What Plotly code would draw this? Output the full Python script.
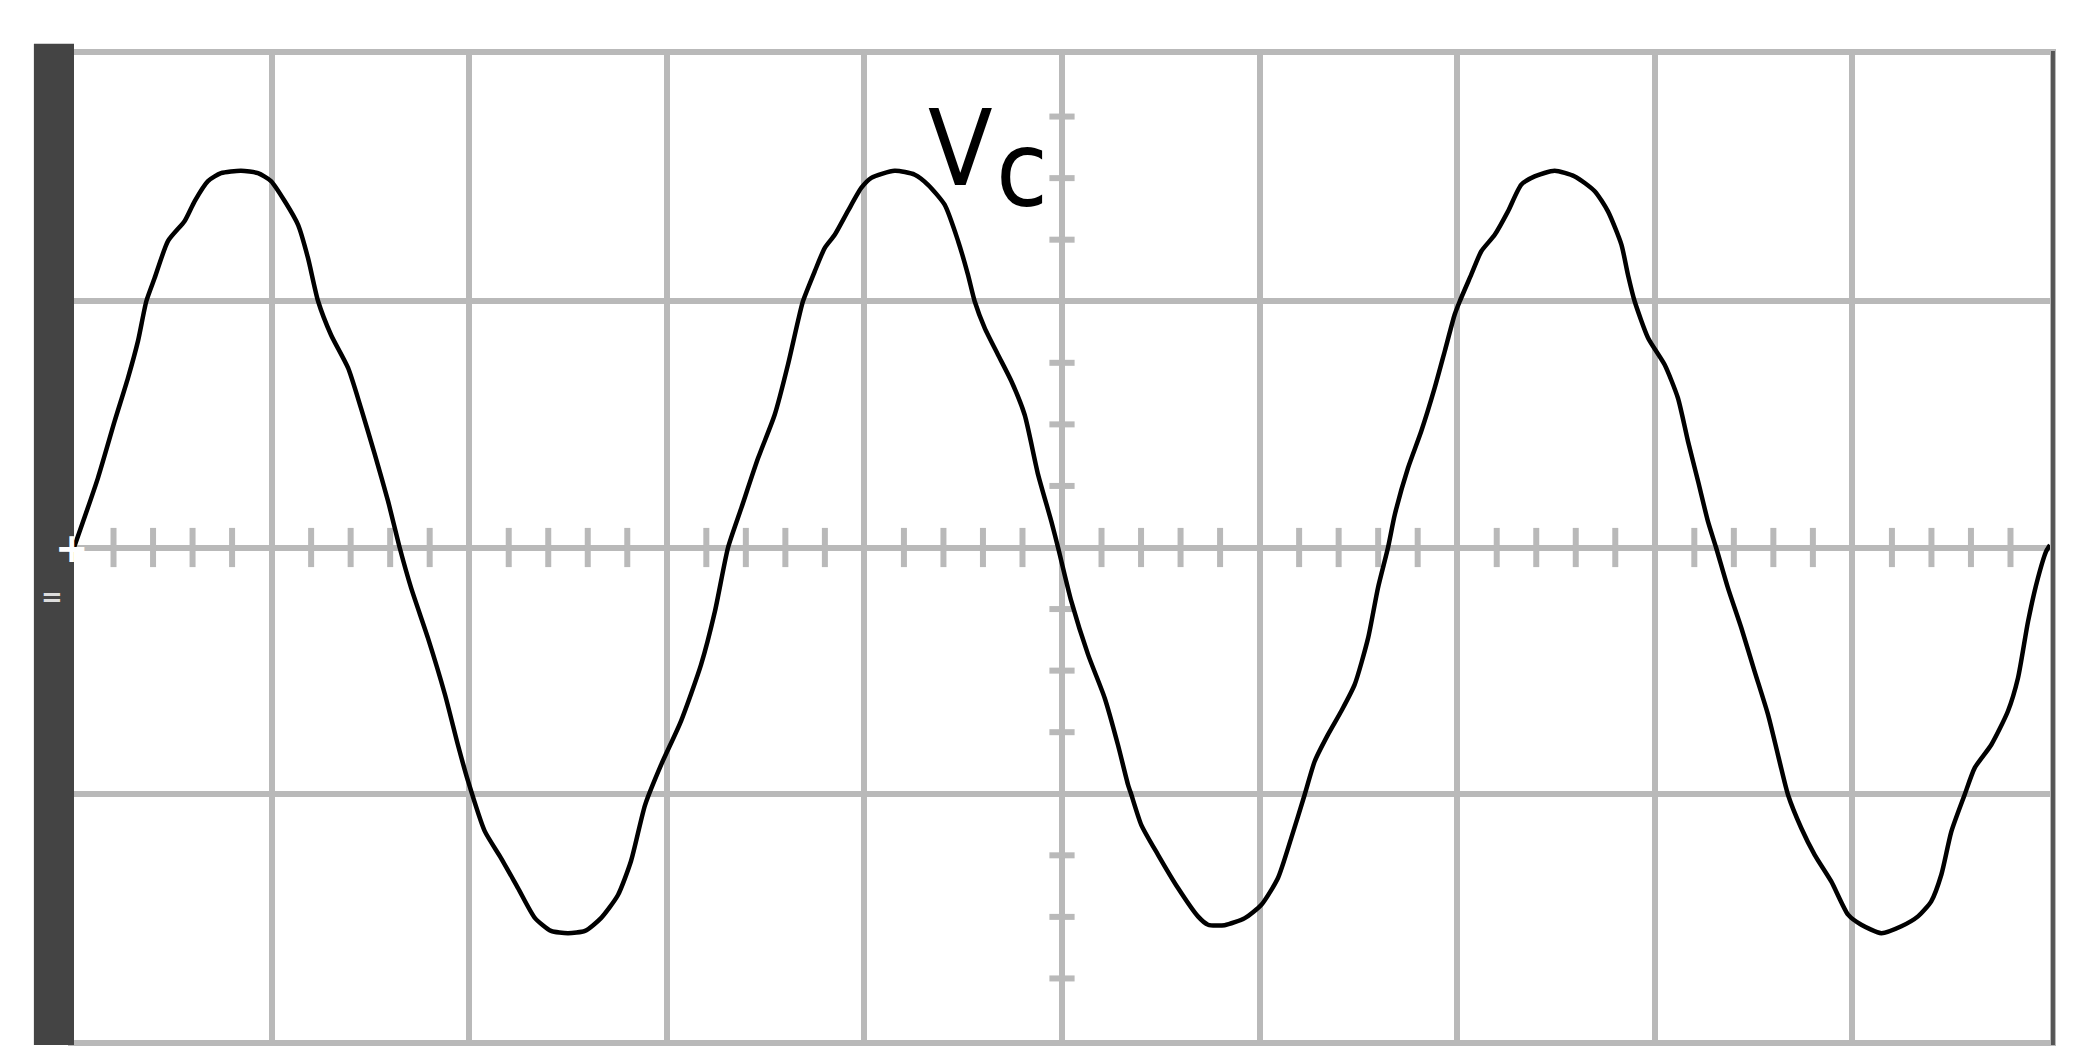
import plotly.graph_objects as go

# Data gelombang Vc (satuan: divisi layar osiloskop)
time_div = [
    0.000, 0.121, 0.206, 0.273, 0.324, 0.366, 0.408, 0.476, 0.560, 0.611,
    0.678, 0.744, 0.845, 0.931, 0.997, 1.066, 1.134, 1.184, 1.235, 1.301,
    1.387, 1.452, 1.523, 1.589, 1.648, 1.706, 1.791, 1.878, 1.943, 1.994,
    2.078, 2.161, 2.247, 2.333, 2.414, 2.500, 2.586, 2.667, 2.753, 2.819,
    2.890, 2.971, 3.072, 3.173, 3.244, 3.310,
    3.377, 3.462, 3.546, 3.613, 3.664, 3.689, 3.749, 3.799, 3.850, 3.917,
    3.984, 4.035, 4.153, 4.255, 4.322, 4.406, 4.474, 4.524, 4.558, 4.609,
    4.676, 4.744, 4.811, 4.879, 4.946, 4.980, 5.047, 5.132, 5.216, 5.283,
    5.334, 5.351, 5.401, 5.486, 5.587, 5.688, 5.739, 5.823, 5.925, 6.009,
    6.093, 6.160, 6.228, 6.279, 6.346, 6.413, 6.481, 6.549, 6.599, 6.650,
    6.684, 6.751, 6.818, 6.886, 6.937, 6.987, 7.013, 7.071, 7.122, 7.190,
    7.257, 7.324, 7.392, 7.493, 7.595, 7.696, 7.763, 7.831, 7.864, 7.898,
    7.966, 8.050, 8.117, 8.168, 8.219, 8.269, 8.310, 8.370, 8.438, 8.505,
    8.573, 8.623, 8.674, 8.741, 8.809, 8.893, 8.978, 9.045, 9.146, 9.248,
    9.332, 9.399, 9.450, 9.501, 9.568, 9.619, 9.703, 9.787, 9.838, 9.889,
    9.939, 9.981, 10.000,
]
vc_div = [
    0.000, 0.282, 0.514, 0.688, 0.839, 1.000, 1.094, 1.245, 1.326, 1.407,
    1.488, 1.520, 1.530, 1.520, 1.488, 1.407, 1.310, 1.176, 1.001, 0.863,
    0.729, 0.567, 0.376, 0.189, 0.000, -0.164, -0.367, -0.599, -0.802, -0.948,
    -1.151, -1.261, -1.383, -1.505, -1.557, -1.566, -1.557, -1.505, -1.411, -1.273,
    -1.046, -0.883, -0.705, -0.477, -0.258, 0.000,
    0.160, 0.363, 0.539, 0.742, 0.920, 1.000, 1.122, 1.216, 1.270, 1.367,
    1.460, 1.501, 1.530, 1.514, 1.473, 1.392, 1.245, 1.108, 1.000, 0.891,
    0.783, 0.675, 0.539, 0.296, 0.106, 0.000, -0.218, -0.435, -0.611, -0.801,
    -0.963, -1.004, -1.126, -1.248, -1.383, -1.498, -1.532, -1.534, -1.505, -1.451,
    -1.342, -1.180, -1.004, -0.868, -0.760, -0.665, -0.557, -0.368, -0.164, 0.000,
    0.133, 0.323, 0.472, 0.648, 0.797, 0.945, 1.000, 1.108, 1.203, 1.270,
    1.365, 1.473, 1.507, 1.530, 1.507, 1.447, 1.365, 1.230, 1.108, 1.000,
    0.851, 0.742, 0.607, 0.431, 0.269, 0.106, 0.000, -0.164, -0.327, -0.503,
    -0.679, -0.841, -1.004, -1.139, -1.248, -1.356, -1.491, -1.532, -1.566, -1.538,
    -1.498, -1.437, -1.329, -1.153, -1.004, -0.895, -0.801, -0.665, -0.530, -0.300,
    -0.124, -0.015, 0.010,
]

# Posisi tick kecil pada sumbu tengah (5 per divisi horizontal, 4 per divisi vertikal)
x_minor = [i / 5 for i in range(1, 50) if i % 5 != 0]
y_minor = [i / 4 - 2 for i in range(1, 16) if i % 4 != 0]

GRID = '#b9b9b9'
LABEL_FONT = 'DejaVu Sans Condensed, Liberation Sans, sans-serif'

fig = go.Figure()

# Tick kecil di garis tengah horizontal
fig.add_trace(go.Scatter(
    x=x_minor, y=[0] * len(x_minor), mode='markers',
    marker=dict(symbol='line-ns-open', size=28, color=GRID,
                line=dict(color=GRID, width=6)),
    hoverinfo='skip', showlegend=False,
))
# Tick kecil di garis tengah vertikal
fig.add_trace(go.Scatter(
    x=[5] * len(y_minor), y=y_minor, mode='markers',
    marker=dict(symbol='line-ew-open', size=18, color=GRID,
                line=dict(color=GRID, width=6)),
    hoverinfo='skip', showlegend=False,
))

# Gelombang Vc
fig.add_trace(go.Scatter(
    x=time_div, y=vc_div, mode='lines',
    line=dict(color='black', width=4.5, shape='spline', smoothing=0.6),
    name='Vc', showlegend=False,
))

# Batang gelap di sisi kiri layar
fig.add_shape(type='rect', xref='paper', yref='paper',
              x0=-0.0203, x1=0.0, y0=-0.005, y1=1.0115,
              fillcolor='#444444', line=dict(width=0), layer='above')
# Tepi kanan gelap
fig.add_shape(type='rect', xref='paper', yref='paper',
              x0=1.0005, x1=1.0025, y0=-0.005, y1=1.004,
              fillcolor='#555555', line=dict(width=0), layer='above')

# Penanda level trigger
fig.add_annotation(x=-0.0105, y=0, xref='paper', yref='y', text='<b>+</b>',
                   showarrow=False, font=dict(family='DejaVu Sans', size=40, color='white'))
fig.add_annotation(x=-0.0175, y=-0.2, xref='paper', yref='y', text='<b>=</b>',
                   showarrow=False, font=dict(family='DejaVu Sans', size=26, color='#dddddd'))

# Label Vc: "V" rata kanan dan "c" rata kiri pada titik yang sama, c sedikit lebih rendah
fig.add_annotation(x=0.4657, y=0.905, xref='paper', yref='paper', text='V',
                   xanchor='right', yanchor='middle', showarrow=False, borderpad=0,
                   font=dict(family=LABEL_FONT, size=105, color='black'))
fig.add_annotation(x=0.4662, y=0.8836, xref='paper', yref='paper', text='c',
                   xanchor='left', yanchor='middle', showarrow=False, borderpad=0,
                   font=dict(family=LABEL_FONT, size=105, color='black'))

axis_style = dict(
    showgrid=True, gridcolor=GRID, gridwidth=6,
    showline=True, linecolor=GRID, linewidth=6, mirror=True,
    zeroline=False, showticklabels=False, ticks='', dtick=1,
)

fig.update_layout(
    width=2075, height=1064,
    margin=dict(l=66, r=33, t=47, b=32),
    paper_bgcolor='white', plot_bgcolor='white',
    xaxis=dict(range=[0, 10], **axis_style),
    yaxis=dict(range=[-2, 2], **axis_style),
    showlegend=False,
)

fig.write_html("out.html")
